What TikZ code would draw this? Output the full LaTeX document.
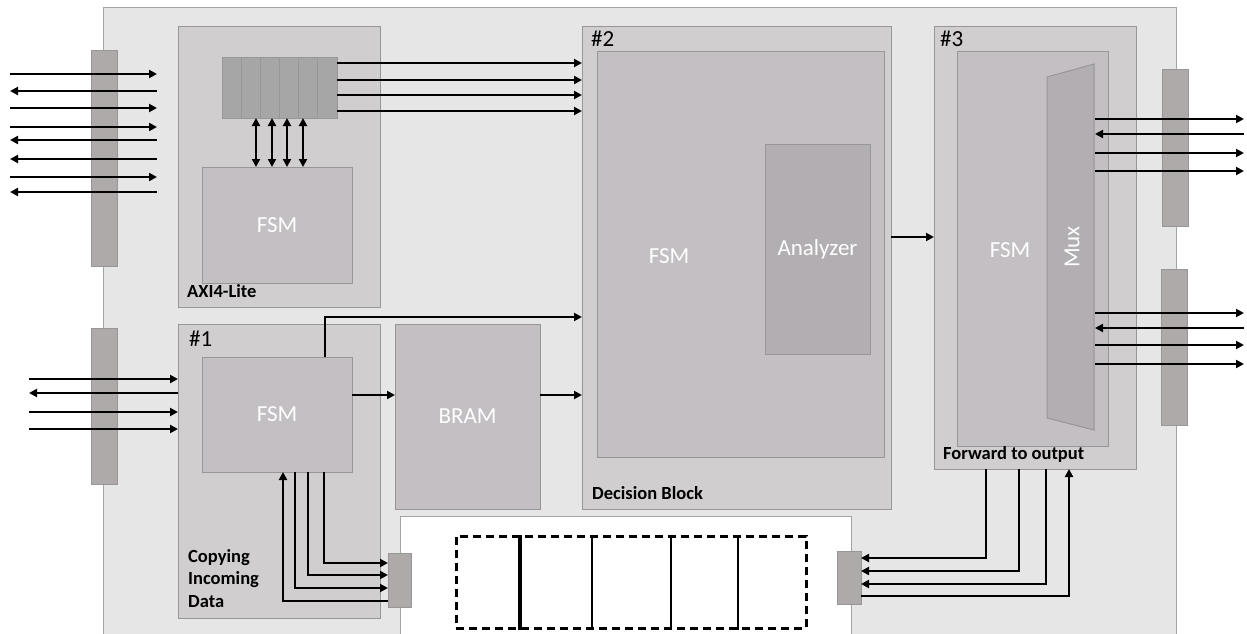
\documentclass[tikz,border=0pt]{standalone}
\usepackage{fontspec}
\setmainfont{Carlito}
\usepackage{tikz}
\usetikzlibrary{arrows.meta, positioning, calc}
\definecolor{boardbg}{HTML}{E6E6E6}
\definecolor{boardline}{HTML}{A3A3A3}
\definecolor{unitbg}{HTML}{D0CECF}
\definecolor{unitline}{HTML}{979797}
\definecolor{corebg}{HTML}{C4BFC2}
\definecolor{deepbg}{HTML}{B3AEB1}
\definecolor{portbg}{HTML}{AEAAA9}
\definecolor{regbg}{HTML}{A6A6A6}
\tikzset{
    board/.style={rectangle, draw=boardline, fill=boardbg, line width=1pt, inner sep=0pt, outer sep=0pt, anchor=north west},
    unit/.style={rectangle, draw=unitline, fill=unitbg, line width=1pt, inner sep=0pt, outer sep=0pt, anchor=north west},
    core/.style={rectangle, draw=unitline, fill=corebg, line width=1pt, inner sep=0pt, outer sep=0pt, anchor=north west, text=white, font=\fontsize{23}{27}\selectfont},
    deep/.style={core, fill=deepbg},
    port/.style={rectangle, draw=unitline, fill=portbg, line width=1pt, inner sep=0pt, outer sep=0pt, anchor=north west},
    regfile/.style={port, fill=regbg},
    caption/.style={inner sep=0pt, anchor=base west, font=\bfseries\fontsize{18.5}{22.5}\selectfont},
    tag/.style={inner sep=0pt, anchor=base west, font=\fontsize{23}{27}\selectfont},
    wlabel/.style={inner sep=0pt, text=white, font=\fontsize{23}{27}\selectfont},
    arrow/.style={line width=2.5pt},
    fw/.style={arrow, ->},
    bw/.style={arrow, <-},
    both/.style={arrow, <->}
}

\begin{document}
\begin{tikzpicture}[x=1pt, y=-1pt, >={Triangle[length=8pt, width=8pt]}]
    \useasboundingbox (0,0) rectangle (1247,634);
    \clip (0,0) rectangle (1247,634);

    % Board and buffer area
    \node [board, minimum width=1073pt, minimum height=660pt] (board) at (103,8) {};
    \node [board, fill=white, minimum width=451pt, minimum height=140pt] (mem) at (400,516) {};

    % AXI4-Lite
    \node [unit, minimum width=202pt, minimum height=280pt] (axi) at (178,27) {};
    \node [regfile, minimum width=115pt, minimum height=60pt, below right=31pt and 44pt of axi.north west] (reg) {};
    \foreach \i in {1,...,5}
        \draw [draw=unitline, line width=1pt] ($(reg.north west)!\i/6!(reg.north east)$) -- ($(reg.south west)!\i/6!(reg.south east)$);
    \node [core, minimum width=150pt, minimum height=116pt, below right=140pt and 24pt of axi.north west] (axiFsm) {FSM};
    \node [caption] (axiCap) at ([shift={(9pt,10pt)}]axi.south west) {AXI4-Lite};

    % #1 copying block
    \node [unit, minimum width=202pt, minimum height=294pt] (cpy) at (178,324) {};
    \node [tag] (cpyTag) at ([shift={(11pt,-22pt)}]cpy.north west) {\#1};
    \node [core, minimum width=150pt, minimum height=115pt, below right=33pt and 24pt of cpy.north west] (cpyFsm) {FSM};
    \node [caption, anchor=north west, align=left] (cpyCap) at (188,549) {Copying\\Incoming\\Data};
    \node [core, minimum width=145pt, minimum height=185pt] (bram) at (395,324) {BRAM};

    % #2 decision block
    \node [unit, minimum width=309pt, minimum height=482pt] (dec) at (582,27) {};
    \node [tag] (decTag) at ([shift={(9pt,-20pt)}]dec.north west) {\#2};
    \node [core, minimum width=287pt, minimum height=405pt, below right=25pt and 15pt of dec.north west] (decFsm) {};
    \node [wlabel] (decFsmLbl) at (669,256) {FSM};
    \node [deep, minimum width=105pt, minimum height=210pt, below right=92pt and 168pt of decFsm.north west] (ana) {Analyzer};
    \node [caption] (decCap) at ([shift={(10pt,10pt)}]dec.south west) {Decision Block};

    % #3 forward block
    \node [unit, minimum width=202pt, minimum height=442pt] (fwd) at (934,27) {};
    \node [tag] (fwdTag) at ([shift={(6pt,-20pt)}]fwd.north west) {\#3};
    \node [core, minimum width=151pt, minimum height=394pt, below right=25pt and 23pt of fwd.north west] (fwdFsm) {};
    \node [wlabel] (fwdFsmLbl) at (1010,250) {FSM};
    \draw [draw=unitline, fill=deepbg, line width=1pt] (1047,77) -- (1094,64) -- (1094,430) -- (1047,418) -- cycle;
    \node [wlabel, rotate=90] (mux) at (1072,247) {Mux};
    \coordinate (muxOut) at (1095,64);
    \node [caption] (fwdCap) at ([shift={(9pt,10pt)}]fwd.south west) {Forward to output};

    % Buffer
    \node [rectangle, draw, dashed, dash pattern=on 8pt off 5pt, line width=2.5pt, minimum width=350pt, minimum height=92pt, inner sep=0pt, anchor=north west] (buf) at (455,535) {};
    \foreach \sx/\lw in {65/3.5pt, 137/2.5pt, 216/2.5pt, 283/2.5pt}
        \draw [line width=\lw] ([xshift=\sx pt]buf.north west) -- ([xshift=\sx pt]buf.south west);

    % Ports
    \node [port, minimum width=26pt, minimum height=215pt] (lc1) at (91,51) {};
    \node [port, minimum width=26pt, minimum height=156pt] (lc2) at (91,328) {};
    \node [port, minimum width=26pt, minimum height=156pt] (rc1) at (1162,70) {};
    \node [port, minimum width=26pt, minimum height=156pt] (rc2) at (1161,269) {};
    \node [port, minimum width=23pt, minimum height=54pt] (mpL) at (388,553) {};
    \node [port, minimum width=24pt, minimum height=53pt] (mpR) at (837,551) {};

    \coordinate (hostA) at (10,0);
    \coordinate (hostB) at (157,0);
    \coordinate (hostC) at (29,0);
    \coordinate (hostD) at (1244,0);

    % Arrows
    \foreach \dy/\s in {23/fw, 40/bw, 57/fw, 76/fw, 89/bw, 108/bw, 126/fw, 141/bw}
        \draw [\s] ([yshift=-\dy pt]lc1.north -| hostA) -- ([yshift=-\dy pt]lc1.north -| hostB);
    \foreach \dy/\s in {51/fw, 65/bw, 84/fw, 101/fw}
        \draw [\s] ([yshift=-\dy pt]lc2.north -| hostC) -- ([yshift=-\dy pt]lc2.north -| cpy.west);
    \foreach \dy/\s in {49/fw, 64/bw, 83/fw, 101/fw}
        \draw [\s] ([yshift=-\dy pt]rc1.north -| muxOut) -- ([yshift=-\dy pt]rc1.north -| hostD);
    \foreach \dy/\s in {44/fw, 59/bw, 76/fw, 95/fw}
        \draw [\s] ([yshift=-\dy pt]rc2.north -| muxOut) -- ([yshift=-\dy pt]rc2.north -| hostD);

    \foreach \dy in {5, 22, 37, 53}
        \draw [fw] ([yshift=-\dy pt]reg.north east) -- ([yshift=-\dy pt]reg.north east -| dec.west);
    \foreach \dx in {34, 50, 65, 81}
        \draw [both] ([xshift=\dx pt]reg.south west) -- ([xshift=\dx pt]reg.south west |- axiFsm.north);

    \draw [fw] ([xshift=-27pt]cpyFsm.north east) |- ([yshift=7pt]bram.north -| dec.west);
    \draw [fw] ([yshift=-38pt]cpyFsm.north east) -- ([yshift=-38pt]cpyFsm.north east -| bram.west);
    \draw [fw] ([yshift=-71pt]bram.north east) -- ([yshift=-71pt]bram.north east -| dec.west);
    \draw [fw] ([yshift=-210pt]dec.north east) -- ([yshift=-210pt]dec.north east -| fwd.west);

    \foreach \dx/\dy in {28/10, 44/22, 57/35}
        \draw [fw] ([xshift=-\dx pt]cpyFsm.south east) |- ([yshift=-\dy pt]mpL.north west);
    \draw [fw] ([yshift=-48pt]mpL.north west) -| ([xshift=-69pt]cpyFsm.south east);

    \foreach \dx/\dy in {52/7, 85/20, 112/33}
        \draw [fw] ([xshift=\dx pt]fwd.south west) |- ([yshift=-\dy pt]mpR.north east);
    \draw [fw] ([yshift=-45pt]mpR.north east) -| ([xshift=135pt]fwd.south west);
\end{tikzpicture}
\end{document}
